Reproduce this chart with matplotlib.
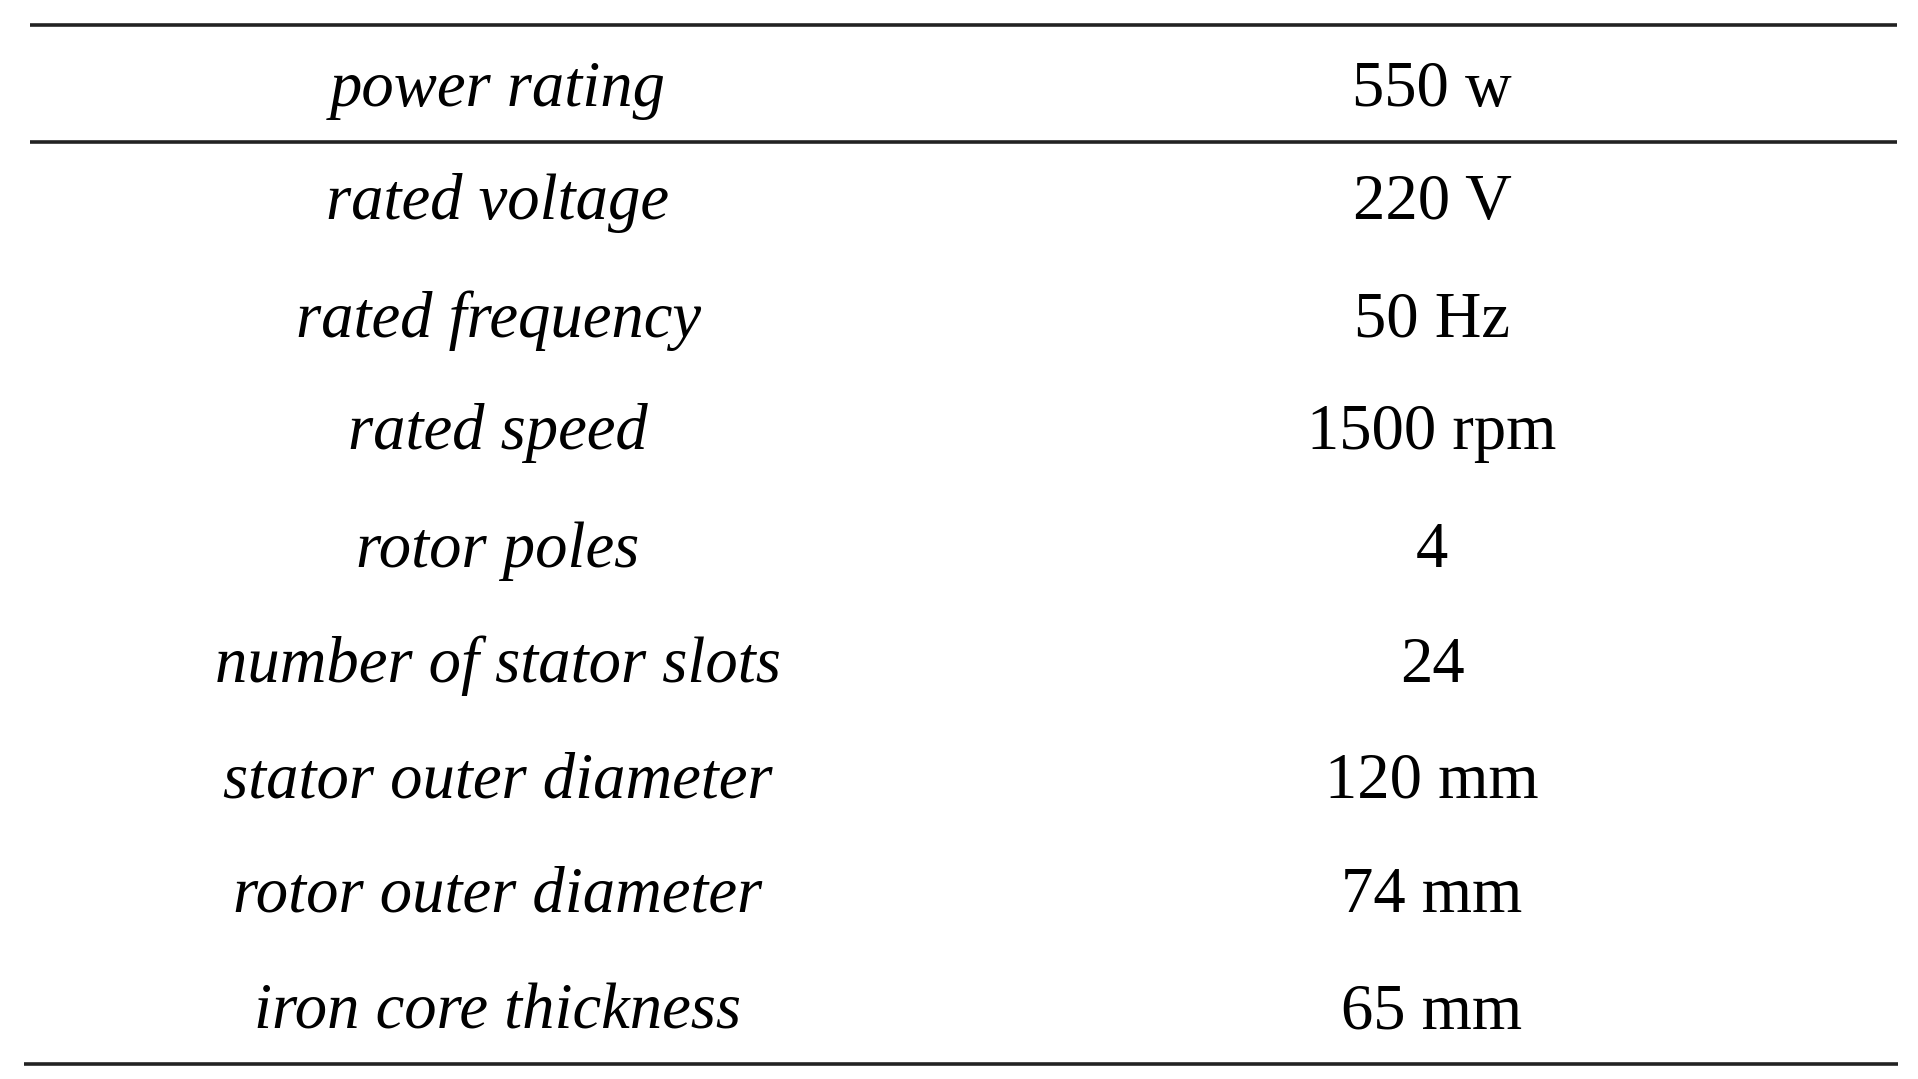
import matplotlib as mpl
mpl.use('Agg')
from matplotlib import pyplot as plt

# table contents
params = ['power rating', 'rated voltage', 'rated frequency', 'rated speed',
          'rotor poles', 'number of stator slots', 'stator outer diameter',
          'rotor outer diameter', 'iron core thickness']
values = ['550 w', '220 V', '50 Hz', '1500 rpm', '4', '24', '120 mm',
          '74 mm', '65 mm']

W, H = 1918, 1079
fig = plt.figure(figsize=(W / 100, H / 100), dpi=100)
ax = fig.add_axes([0, 0, 1, 1])
ax.set_xlim(0, W)
ax.set_ylim(H, 0)
ax.axis('off')

row_y = [90, 203, 321, 433, 551, 666, 782, 896, 1013]
left_x = 498
right_x = 1432
fs = 46.5

for i in range(len(params)):
    ax.text(left_x, row_y[i], params[i], ha='center', va='center',
            fontsize=fs, family='Liberation Serif', style='italic')
    ax.text(right_x, row_y[i], values[i], ha='center', va='center',
            fontsize=fs, family='Liberation Serif')

# rules
ax.hlines(25, 30, 1897, color='#222222', linewidth=2.6)
ax.hlines(142, 30, 1897, color='#222222', linewidth=2.6)
ax.hlines(1064, 24, 1898, color='#222222', linewidth=2.6)

plt.savefig('out.png', dpi=100)
plt.close()
